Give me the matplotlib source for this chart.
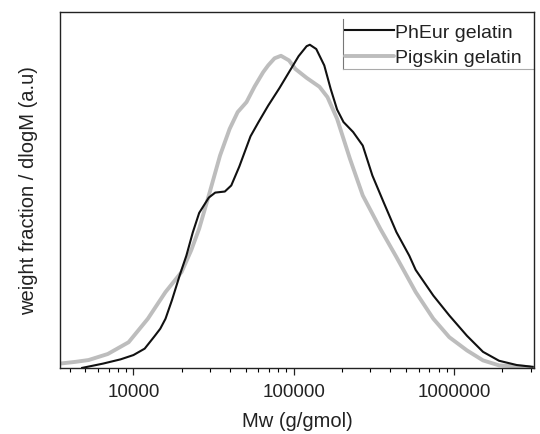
import matplotlib
matplotlib.use("Agg")
import matplotlib.pyplot as plt
from matplotlib.lines import Line2D
from matplotlib.ticker import FixedLocator, FixedFormatter, LogLocator, NullFormatter

plt.rcParams['font.family'] = ['Liberation Sans', 'DejaVu Sans']

# molecular weight (g/gmol) and normalised weight fraction / dlogM
phEur_mw = [4790, 6460, 8320, 10000, 11750, 13490, 14700, 15850, 17380, 19500, 21380,
            23440, 25700, 29510, 32360, 37150, 40740, 45710, 53700, 60260, 69180,
            81280, 93330, 107150, 120230, 125900, 138040, 154880, 169820, 186210,
            204170, 234420, 269150, 309030, 363080, 436520, 524810, 575440,
            741310, 933250, 1202260, 1513560, 1905460, 2454710, 3090300]
phEur_w = [0.0, 0.012, 0.024, 0.036, 0.054, 0.088, 0.110, 0.138, 0.190, 0.262, 0.315,
           0.380, 0.435, 0.478, 0.492, 0.495, 0.512, 0.565, 0.650, 0.690, 0.736,
           0.785, 0.830, 0.875, 0.903, 0.907, 0.895, 0.849, 0.783, 0.725,
           0.690, 0.662, 0.624, 0.540, 0.465, 0.381, 0.315, 0.275,
           0.203, 0.147, 0.090, 0.045, 0.020, 0.008, 0.003]

pigskin_mw = [3470, 4365, 5250, 6920, 9330, 12300, 15850, 19950, 22910, 25700,
              29510, 34670, 39810, 44670, 50700, 57000, 64400, 69180, 75860, 83180,
              93330, 102330, 120230, 144540, 162180, 186210, 223870, 269150,
              346740, 436520, 575440, 741310, 933250, 1202260, 1513560,
              1905460, 2951210]
pigskin_w = [0.012, 0.017, 0.022, 0.039, 0.072, 0.138, 0.213, 0.269, 0.330, 0.391,
             0.484, 0.596, 0.671, 0.718, 0.746, 0.790, 0.830, 0.849, 0.869, 0.876,
             0.863, 0.839, 0.814, 0.789, 0.760, 0.699, 0.587, 0.484,
             0.390, 0.311, 0.213, 0.138, 0.086, 0.049, 0.021,
             0.007, 0.002]

xticks = [10000, 100000, 1000000]
xtick_labels = ['10000', '100000', '1000000']

fig = plt.figure(figsize=(5.4, 4.35), dpi=100)
ax = fig.add_axes([0.111, 0.152, 0.878, 0.819])

ax.plot(pigskin_mw, pigskin_w, color='#bdbdbd', lw=2.8, label='Pigskin gelatin',
        solid_capstyle='round', solid_joinstyle='round', zorder=2)
ax.plot(phEur_mw, phEur_w, color='#111111', lw=1.5, label='PhEur gelatin',
        solid_joinstyle='round', zorder=3)

ax.set_xscale('log')
ax.set_xlim(3480, 3150000)
ax.set_ylim(0, 1)
ax.xaxis.set_major_locator(FixedLocator(xticks))
ax.xaxis.set_major_formatter(FixedFormatter(xtick_labels))
ax.xaxis.set_minor_locator(LogLocator(base=10, subs=range(2, 10)))
ax.xaxis.set_minor_formatter(NullFormatter())
ax.tick_params(axis='x', which='major', direction='out', length=5, width=0.9,
               labelsize=13.5, pad=6, colors='#222222')
ax.tick_params(axis='x', which='minor', direction='out', length=3, width=0.8)
ax.set_yticks([])
for s in ax.spines.values():
    s.set_linewidth(1.0)
    s.set_color('#222222')

ax.set_xlabel('Mw (g/gmol)', fontsize=14.5, labelpad=8, color='#222222')
ax.set_ylabel('weight fraction / dlogM (a.u)', fontsize=14.5, labelpad=16, color='#222222')

# legend: PhEur listed first
h, l = ax.get_legend_handles_labels()
leg = ax.legend(h[::-1], l[::-1], loc='upper left', bbox_to_anchor=(0.601, 0.968),
                frameon=False, fontsize=14, handlelength=2.55, handletextpad=0.05,
                labelspacing=0.42, borderaxespad=0.0, borderpad=0.0)
for t in leg.get_texts():
    t.set_color('#222222')

# partial legend frame (left and bottom edges only)
ax.add_line(Line2D([0.597, 0.597], [0.838, 0.98], transform=ax.transAxes,
                   color='#777777', lw=0.8, clip_on=False))
ax.add_line(Line2D([0.597, 1.0], [0.838, 0.838], transform=ax.transAxes,
                   color='#aaaaaa', lw=0.8, clip_on=False))

fig.savefig('out.png', dpi=100, facecolor='white')
